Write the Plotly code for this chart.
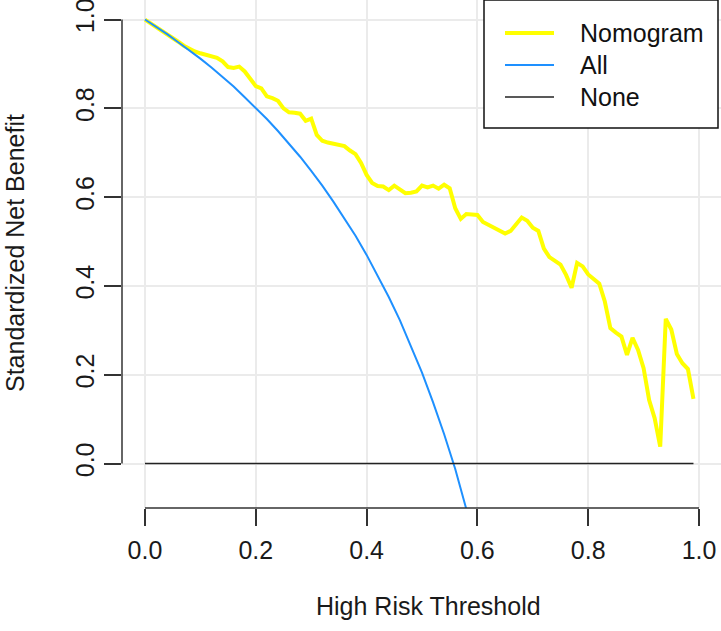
import plotly.graph_objects as go

# thresholds for the nomogram curve (step 0.01)
thresholds = [round(i * 0.01, 2) for i in range(100)]
nomogram_nb = [
    1.000, 0.992, 0.984, 0.975, 0.967, 0.958, 0.950, 0.941, 0.934, 0.928,
    0.924, 0.921, 0.918, 0.914, 0.906, 0.893, 0.891, 0.894, 0.883, 0.866,
    0.850, 0.845, 0.827, 0.823, 0.817, 0.800, 0.791, 0.790, 0.788, 0.772,
    0.777, 0.740, 0.727, 0.723, 0.720, 0.717, 0.715, 0.705, 0.697, 0.677,
    0.650, 0.632, 0.625, 0.624, 0.616, 0.626, 0.618, 0.609, 0.610, 0.613,
    0.626, 0.622, 0.626, 0.619, 0.628, 0.620, 0.575, 0.551, 0.562, 0.561,
    0.560, 0.544, 0.538, 0.532, 0.525, 0.518, 0.524, 0.540, 0.554, 0.547,
    0.531, 0.524, 0.484, 0.465, 0.457, 0.448, 0.425, 0.396, 0.452, 0.444,
    0.426, 0.414, 0.405, 0.365, 0.305, 0.295, 0.286, 0.245, 0.283, 0.256,
    0.215, 0.143, 0.102, 0.038, 0.326, 0.302, 0.247, 0.226, 0.213, 0.146,
]

# "treat all" curve
all_x = [0.00, 0.02, 0.04, 0.06, 0.08, 0.10, 0.12, 0.14, 0.16, 0.18,
         0.20, 0.22, 0.24, 0.26, 0.28, 0.30, 0.32, 0.34, 0.36, 0.38,
         0.40, 0.42, 0.44, 0.46, 0.48, 0.50, 0.52, 0.54, 0.56, 0.58, 0.60]
all_nb = [1.000, 0.984, 0.967, 0.949, 0.931, 0.912, 0.892, 0.871, 0.849, 0.825,
          0.801, 0.776, 0.749, 0.721, 0.691, 0.659, 0.626, 0.590, 0.553, 0.513,
          0.470, 0.424, 0.375, 0.323, 0.266, 0.205, 0.138, 0.066, -0.012, -0.098, -0.193]

none_x = [0.00, 0.99]
none_nb = [0.0, 0.0]

tick_vals = [0.0, 0.2, 0.4, 0.6, 0.8, 1.0]
tick_text = ["0.0", "0.2", "0.4", "0.6", "0.8", "1.0"]

series = [("Nomogram", "#FFFF00", 4), ("All", "#1E90FF", 2), ("None", "#222222", 1.5)]

FONT = "Liberation Sans, Arial, sans-serif"
AXIS_COL = "#333333"
TXT_COL = "#1a1a1a"
FS = 25

# plot area in pixels
L, R, T, B = 122, 721, 0, 508
W_PX, H_PX = R - L, B - T


def px(xp, yp):
    return (xp - L) / W_PX, (B - yp) / H_PX


fig = go.Figure()
fig.add_trace(go.Scatter(x=thresholds, y=nomogram_nb, mode="lines", name="Nomogram",
                         line=dict(color=series[0][1], width=series[0][2])))
fig.add_trace(go.Scatter(x=all_x, y=all_nb, mode="lines", name="All",
                         line=dict(color=series[1][1], width=series[1][2])))
fig.add_trace(go.Scatter(x=none_x, y=none_nb, mode="lines", name="None",
                         line=dict(color=series[2][1], width=series[2][2])))

# R-style axis lines spanning only the tick range
fig.add_shape(type="line", xref="x", yref="paper", x0=0, x1=1, y0=0, y1=0,
              line=dict(color=AXIS_COL, width=1.5))
fig.add_shape(type="line", xref="paper", yref="y", x0=0, x1=0, y0=0, y1=1,
              line=dict(color=AXIS_COL, width=1.5))

fig.update_xaxes(range=[-0.0415, 1.0397], tickvals=tick_vals, ticktext=tick_text,
                 ticks="outside", ticklen=17, tickwidth=1.5, tickcolor=AXIS_COL,
                 showline=False, zeroline=False, showgrid=True, automargin=False,
                 gridcolor="#EBEBEB", gridwidth=2, ticklabelstandoff=3,
                 ticklabeloverflow="allow",
                 tickfont=dict(family=FONT, size=FS, color=TXT_COL))
fig.update_yaxes(range=[-0.1, 1.044], tickvals=tick_vals, ticktext=tick_text,
                 ticks="outside", ticklen=17, tickwidth=1.5, tickcolor=AXIS_COL,
                 tickangle=-90, showline=False, zeroline=False, showgrid=True,
                 automargin=False, gridcolor="#EBEBEB", gridwidth=2,
                 ticklabeloverflow="allow",
                 tickfont=dict(family=FONT, size=FS, color=TXT_COL))

x0, y0 = px(429, 606)
fig.add_annotation(text="High Risk Threshold", xref="paper", yref="paper",
                   x=x0, y=y0, showarrow=False, xanchor="center", yanchor="middle",
                   font=dict(family=FONT, size=FS, color=TXT_COL))
x0, y0 = px(15, 253)
fig.add_annotation(text="Standardized Net Benefit", xref="paper", yref="paper",
                   x=x0, y=y0, showarrow=False, textangle=-90,
                   xanchor="center", yanchor="middle",
                   font=dict(family=FONT, size=FS, color=TXT_COL))

# legend box, drawn the way R's legend() lays it out
bx0, by0 = px(484, 128)
bx1, by1 = px(718, 0)
fig.add_shape(type="rect", xref="paper", yref="paper", x0=bx0, y0=by0, x1=bx1, y1=by1,
              line=dict(color="#111111", width=1.5), fillcolor="white", layer="above")
for i, (name, col, w) in enumerate(series):
    row_y = 33 + 32 * i
    lx0, ly = px(505, row_y)
    lx1, _ = px(554, row_y)
    fig.add_shape(type="line", xref="paper", yref="paper", x0=lx0, x1=lx1, y0=ly, y1=ly,
                  line=dict(color=col, width=w), layer="above")
    tx, ty = px(578, row_y)
    fig.add_annotation(text=name, xref="paper", yref="paper", x=tx, y=ty,
                       showarrow=False, xanchor="left", yanchor="middle",
                       font=dict(family=FONT, size=FS, color="#111111"))

fig.update_layout(
    width=721, height=631,
    margin=dict(l=L, r=721 - R, t=T, b=631 - B, pad=0),
    plot_bgcolor="white", paper_bgcolor="white",
    showlegend=False,
)

# drop the browser's default 8px body margin so the figure sits at the page origin
fig.write_html("out.html", config={"displayModeBar": False},
               post_script="document.body.style.margin='0';")
